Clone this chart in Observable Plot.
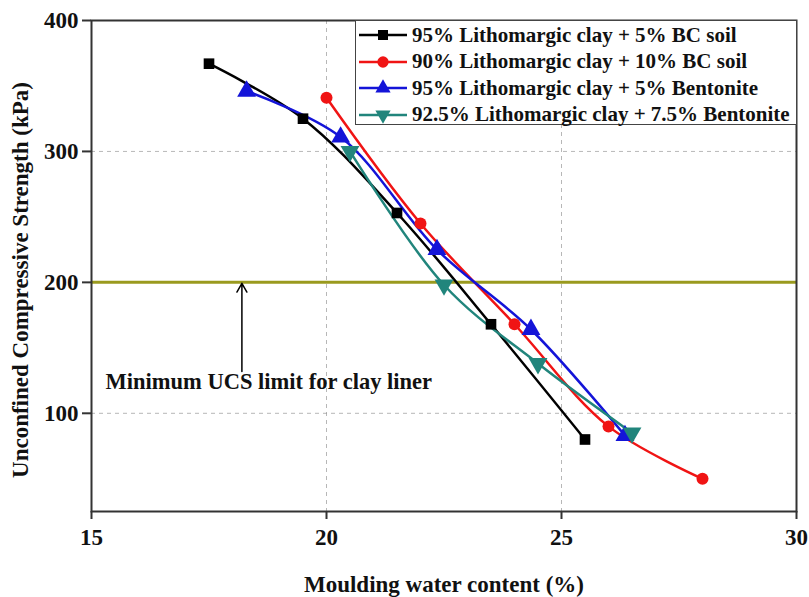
<!DOCTYPE html>
<html><head><meta charset="utf-8">
<script src="https://cdn.jsdelivr.net/npm/d3@7"></script>
<script src="https://cdn.jsdelivr.net/npm/@observablehq/plot@0.6"></script>
<style>
body{margin:0;background:#fff;}
#wrap{position:relative;width:809px;height:597px;font-family:"Liberation Serif","Times New Roman",serif;font-weight:bold;}
#legend{position:absolute;left:355px;top:20px;width:442px;height:105px;border:1.5px solid #444;background:#fff;box-sizing:border-box;padding-top:1px;}
.row{display:flex;align-items:center;height:26.5px;font-size:21px;color:#111;white-space:nowrap;}
.row svg{margin-left:2px;margin-right:4px;}
</style>
</head><body><div id="wrap"></div>
<script>
// ---- data ----
const seriesNames = [
  "95% Lithomargic clay + 5% BC soil",
  "90% Lithomargic clay + 10% BC soil",
  "95% Lithomargic clay + 5% Bentonite",
  "92.5% Lithomargic clay + 7.5% Bentonite"
];
const seriesColors = ["#000000", "#f01414", "#1414d8", "#21857c"];
const seriesSymbols = ["square", "circle", "triangle", "triangle"];
const seriesRotate = [0, 0, 0, 180];

const waterBC5 = [17.5, 19.5, 21.5, 23.5, 25.5];
const ucsBC5 = [367, 325, 253, 168, 80];
const waterBC10 = [20, 22, 24, 26, 28];
const ucsBC10 = [341, 245, 168, 90, 50];
const waterBen5 = [18.3, 20.3, 22.35, 24.35, 26.35];
const ucsBen5 = [346, 311, 225, 164, 83];
const waterBen75 = [20.5, 22.5, 24.5, 26.5];
const ucsBen75 = [300, 198, 138, 85];

const xTicks = [15, 20, 25, 30];
const yTicks = [100, 200, 300, 400];
const xGrid = [20, 25];
const yGrid = [100, 300];
const ucsLimit = 200;
const limitLabel = "Minimum UCS limit for clay liner";
const arrowWater = 18.2;
const arrowFrom = 132;
const labelWater = 15.3;
const labelUcs = 124;
const xLabel = "Moulding water content (%)";
const yLabel = "Unconfined Compressive Strength (kPa)";

// ---- build table ----
const allX = [waterBC5, waterBC10, waterBen5, waterBen75];
const allY = [ucsBC5, ucsBC10, ucsBen5, ucsBen75];
const rows = [];
allX.forEach((xs, i) => xs.forEach((x, j) => rows.push({series: seriesNames[i], idx: i, x, y: allY[i][j]})));

const marks = [
  Plot.gridX(xGrid, {stroke: "#999", strokeOpacity: 0.7, strokeDasharray: "4,4", strokeWidth: 1}),
  Plot.gridY(yGrid, {stroke: "#999", strokeOpacity: 0.7, strokeDasharray: "4,4", strokeWidth: 1}),
  Plot.ruleY([ucsLimit], {stroke: "#9a9a1e", strokeWidth: 3}),
  Plot.arrow([{x: arrowWater, y1: arrowFrom, y2: ucsLimit}], {x1: "x", x2: "x", y1: "y1", y2: "y2", stroke: "#000", strokeWidth: 1.5, headLength: 10, insetEnd: 1}),
  Plot.text([{x: labelWater, y: labelUcs}], {x: "x", y: "y", text: () => limitLabel, textAnchor: "start", fontSize: 22.5, fontWeight: "bold", fill: "#111"}),
];
seriesNames.forEach((name, i) => {
  const d = rows.filter(r => r.idx === i);
  marks.push(Plot.line(d, {x: "x", y: "y", stroke: seriesColors[i], strokeWidth: 2.5, curve: "catmull-rom"}));
});
seriesNames.forEach((name, i) => {
  const d = rows.filter(r => r.idx === i);
  marks.push(Plot.dot(d, {x: "x", y: "y", fill: seriesColors[i], stroke: "none", symbol: seriesSymbols[i], r: i === 0 ? 6 : (i === 1 ? 6 : 7), rotate: seriesRotate[i]}));
});
marks.push(
  Plot.axisX({ticks: xTicks, tickSize: 8, tickPadding: 9, tickFormat: d => d, fontSize: 23, fontWeight: "bold", label: null, stroke: "#333", strokeWidth: 2}),
  Plot.axisY({ticks: yTicks, tickSize: 9, tickPadding: 4, tickFormat: d => d, fontSize: 23, fontWeight: "bold", label: null, stroke: "#333", strokeWidth: 2}),
  Plot.frame({stroke: "#333", strokeWidth: 2}),
  Plot.text([xLabel], {frameAnchor: "bottom", text: d => d, dy: 80, fontSize: 23, fontWeight: "bold", fill: "#111"}),
  Plot.text([yLabel], {frameAnchor: "left", textAnchor: "middle", text: d => d, rotate: -90, dx: -71, dy: 14, fontSize: 23, fontWeight: "bold", fill: "#111"})
);

const chart = Plot.plot({
  width: 809,
  height: 597,
  marginLeft: 91,
  marginRight: 13,
  marginTop: 20,
  marginBottom: 86,
  x: {domain: [15, 30]},
  y: {domain: [25, 400]},
  style: {fontFamily: "'Liberation Serif','Times New Roman',serif", fontWeight: "bold", fontSize: "20px", color: "#111", background: "#fff", overflow: "visible"},
  marks
});
const wrap = document.getElementById("wrap");
wrap.appendChild(chart);

// legend overlay
const leg = document.createElement("div");
leg.id = "legend";
seriesNames.forEach((name, i) => {
  const row = document.createElement("div");
  row.className = "row";
  const ns = "http://www.w3.org/2000/svg";
  const s = document.createElementNS(ns, "svg");
  s.setAttribute("width", 50); s.setAttribute("height", 20);
  const ln = document.createElementNS(ns, "line");
  ln.setAttribute("x1", 1); ln.setAttribute("x2", 49); ln.setAttribute("y1", 10); ln.setAttribute("y2", 10);
  ln.setAttribute("stroke", seriesColors[i]); ln.setAttribute("stroke-width", 2.5);
  s.appendChild(ln);
  const sym = {square: d3.symbolSquare, circle: d3.symbolCircle, triangle: d3.symbolTriangle}[seriesSymbols[i]];
  const p = document.createElementNS(ns, "path");
  p.setAttribute("d", d3.symbol(sym, 100)());
  p.setAttribute("transform", `translate(25,10) rotate(${seriesRotate[i]})`);
  p.setAttribute("fill", seriesColors[i]);
  s.appendChild(p);
  row.appendChild(s);
  const t = document.createElement("span");
  t.textContent = name;
  row.appendChild(t);
  leg.appendChild(row);
});
wrap.appendChild(leg);
</script>
</body></html>
